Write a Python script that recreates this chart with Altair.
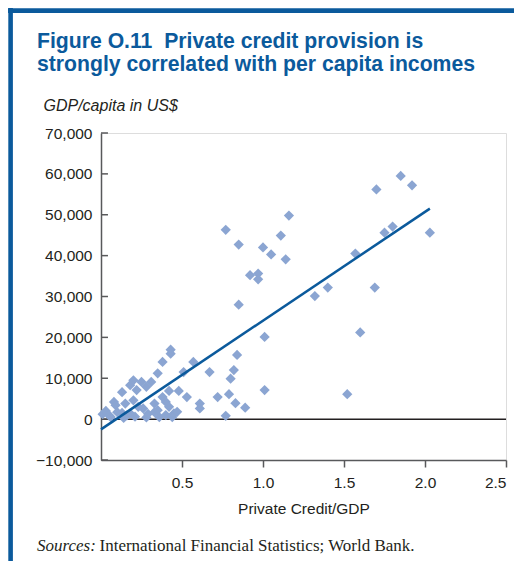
import altair as alt
import pandas as pd

# ---- data ----
credit = [0.01, 0.03, 0.05, 0.06, 0.08, 0.09, 0.10, 0.13, 0.13, 0.14, 0.15, 0.16,
          0.18, 0.18, 0.20, 0.20, 0.21, 0.22, 0.23, 0.25, 0.26, 0.28, 0.28, 0.29,
          0.31, 0.33, 0.33, 0.35, 0.35, 0.36, 0.38, 0.38, 0.40, 0.40, 0.43, 0.43,
          0.42, 0.42, 0.44, 0.45, 0.47, 0.48, 0.51, 0.53, 0.57, 0.61, 0.61, 0.67,
          0.72, 0.77, 0.79, 0.80, 0.82, 0.84, 0.83, 0.89,
          0.77, 0.85, 0.85, 0.92, 0.97, 0.97, 1.00, 1.01, 1.01, 1.05, 1.11, 1.14,
          1.16, 1.32, 1.40, 1.52, 1.57, 1.60, 1.69, 1.70, 1.75, 1.80, 1.85, 1.92, 2.03]
gdp = [1200, 2000, 900, 500, 4200, 3400, 1700, 6600, 1500, 300, 3800, 900,
       8300, 1400, 9500, 4600, 600, 7100, 3000, 9100, 2600, 7900, 400, 1300,
       9100, 3800, 1700, 11200, 2200, 500, 14000, 5400, 4200, 1000, 17000, 16000,
       3000, 6900, 500, 1400, 1800, 6900, 11500, 5400, 14000, 3800, 2600, 11500,
       5400, 800, 6100, 9900, 12000, 15700, 3900, 2800,
       46300, 42700, 28000, 35200, 35600, 34200, 42000, 20100, 7100, 40300, 44900, 39100,
       49800, 30100, 32200, 6100, 40500, 21200, 32200, 56200, 45600, 47100, 59500, 57200, 45600]

fit_x = [0.0, 2.03]
fit_y = [-2500, 51500]

y_ticks = [-10000, 0, 10000, 20000, 30000, 40000, 50000, 60000, 70000]
x_ticks = [0.5, 1.0, 1.5, 2.0, 2.5]

title_lines = ["Figure O.11\u00a0\u00a0Private credit provision is",
               "strongly correlated with per capita incomes"]
y_title = ["GDP/capita in US$"]
x_title = "Private Credit/GDP"
source_label = ["Sources:"]
source_text = ["International Financial Statistics; World Bank."]

BLUE = "#0B5A9C"
DOT = "#8BA5D2"
FONT = "Liberation Sans"

pts = pd.DataFrame({"credit": credit, "gdp": gdp})
fit = pd.DataFrame({"credit": fit_x, "gdp": fit_y})
ticks = pd.DataFrame({"gdp": y_ticks, "x0": [0.0] * len(y_ticks), "x1": [0.043] * len(y_ticks)})
zero = pd.DataFrame({"gdp": [0], "x0": [0.0], "x1": [2.5]})

xscale = alt.Scale(domain=[0, 2.5], nice=False, zero=False)
yscale = alt.Scale(domain=[-10000, 70000], nice=False)

points = alt.Chart(pts).mark_point(shape="diamond", filled=True, size=105, color=DOT, opacity=1).encode(
    x=alt.X("credit:Q", scale=xscale,
            axis=alt.Axis(values=x_ticks, format=".1f", title=x_title, grid=False,
                          tickSize=7, labelPadding=8, titlePadding=11,
                          domainColor="#58595B", tickColor="#58595B", domainWidth=1.5, tickWidth=1.5,
                          labelFont=FONT, labelFontSize=15.5, labelColor="#231F20",
                          titleFont=FONT, titleFontSize=15.5, titleFontWeight="normal",
                          titleColor="#231F20")),
    y=alt.Y("gdp:Q", scale=yscale,
            axis=alt.Axis(values=y_ticks, format=",d", title=None, grid=False,
                          tickSize=0, labelPadding=9,
                          domainColor="#58595B", domainWidth=1.5,
                          labelFont=FONT, labelFontSize=15.5, labelColor="#231F20")),
)

zero_line = alt.Chart(zero).mark_rule(color="#231F20", strokeWidth=1.5).encode(
    x="x0:Q", x2="x1:Q", y="gdp:Q")

ytick_marks = alt.Chart(ticks).mark_rule(color="#58595B", strokeWidth=1.5).encode(
    x="x0:Q", x2="x1:Q", y="gdp:Q")

fit_line = alt.Chart(fit).mark_line(color=BLUE, strokeWidth=2.5).encode(
    x="credit:Q", y="gdp:Q")

t1 = alt.Chart(pd.DataFrame({"t": [title_lines[0]]})).mark_text(
    align="left", baseline="alphabetic", font=FONT, fontSize=21.2, fontWeight="bold", color=BLUE
).encode(x=alt.value(-64), y=alt.value(-85), text="t:N")
t2 = alt.Chart(pd.DataFrame({"t": [title_lines[1]]})).mark_text(
    align="left", baseline="alphabetic", font=FONT, fontSize=21.2, fontWeight="bold", color=BLUE
).encode(x=alt.value(-64), y=alt.value(-62), text="t:N")

yt = alt.Chart(pd.DataFrame({"t": y_title})).mark_text(
    align="left", baseline="alphabetic", font=FONT, fontSize=16, fontStyle="italic", color="#231F20"
).encode(x=alt.value(-57.5), y=alt.value(-22), text="t:N")

s1 = alt.Chart(pd.DataFrame({"t": source_label})).mark_text(
    align="left", baseline="alphabetic", font="Liberation Serif", fontSize=17, fontStyle="italic", color="#231F20"
).encode(x=alt.value(-64), y=alt.value(418), text="t:N")
s2 = alt.Chart(pd.DataFrame({"t": source_text})).mark_text(
    align="left", baseline="alphabetic", font="Liberation Serif", fontSize=17, color="#231F20"
).encode(x=alt.value(-1.5), y=alt.value(418), text="t:N")

frame_left = alt.Chart(pd.DataFrame({"k": [1]})).mark_rule(color=BLUE, strokeWidth=4.6).encode(
    x=alt.value(-90.4), y=alt.value(-125), y2=alt.value(428))
frame_top = alt.Chart(pd.DataFrame({"k": [1]})).mark_rule(color=BLUE, strokeWidth=4.6).encode(
    x=alt.value(-93), x2=alt.value(413), y=alt.value(-122.4))

chart = alt.layer(
    zero_line, ytick_marks, points, fit_line, t1, t2, yt, s1, s2, frame_left, frame_top
).properties(
    width=405, height=327,
    padding={"left": 93, "top": 125, "right": 8, "bottom": 101},
    autosize=alt.AutoSizeParams(type="none"),
).configure_view(stroke=None).configure(background="white")

chart.save("out.html", embed_options={"renderer": "svg", "actions": False})
